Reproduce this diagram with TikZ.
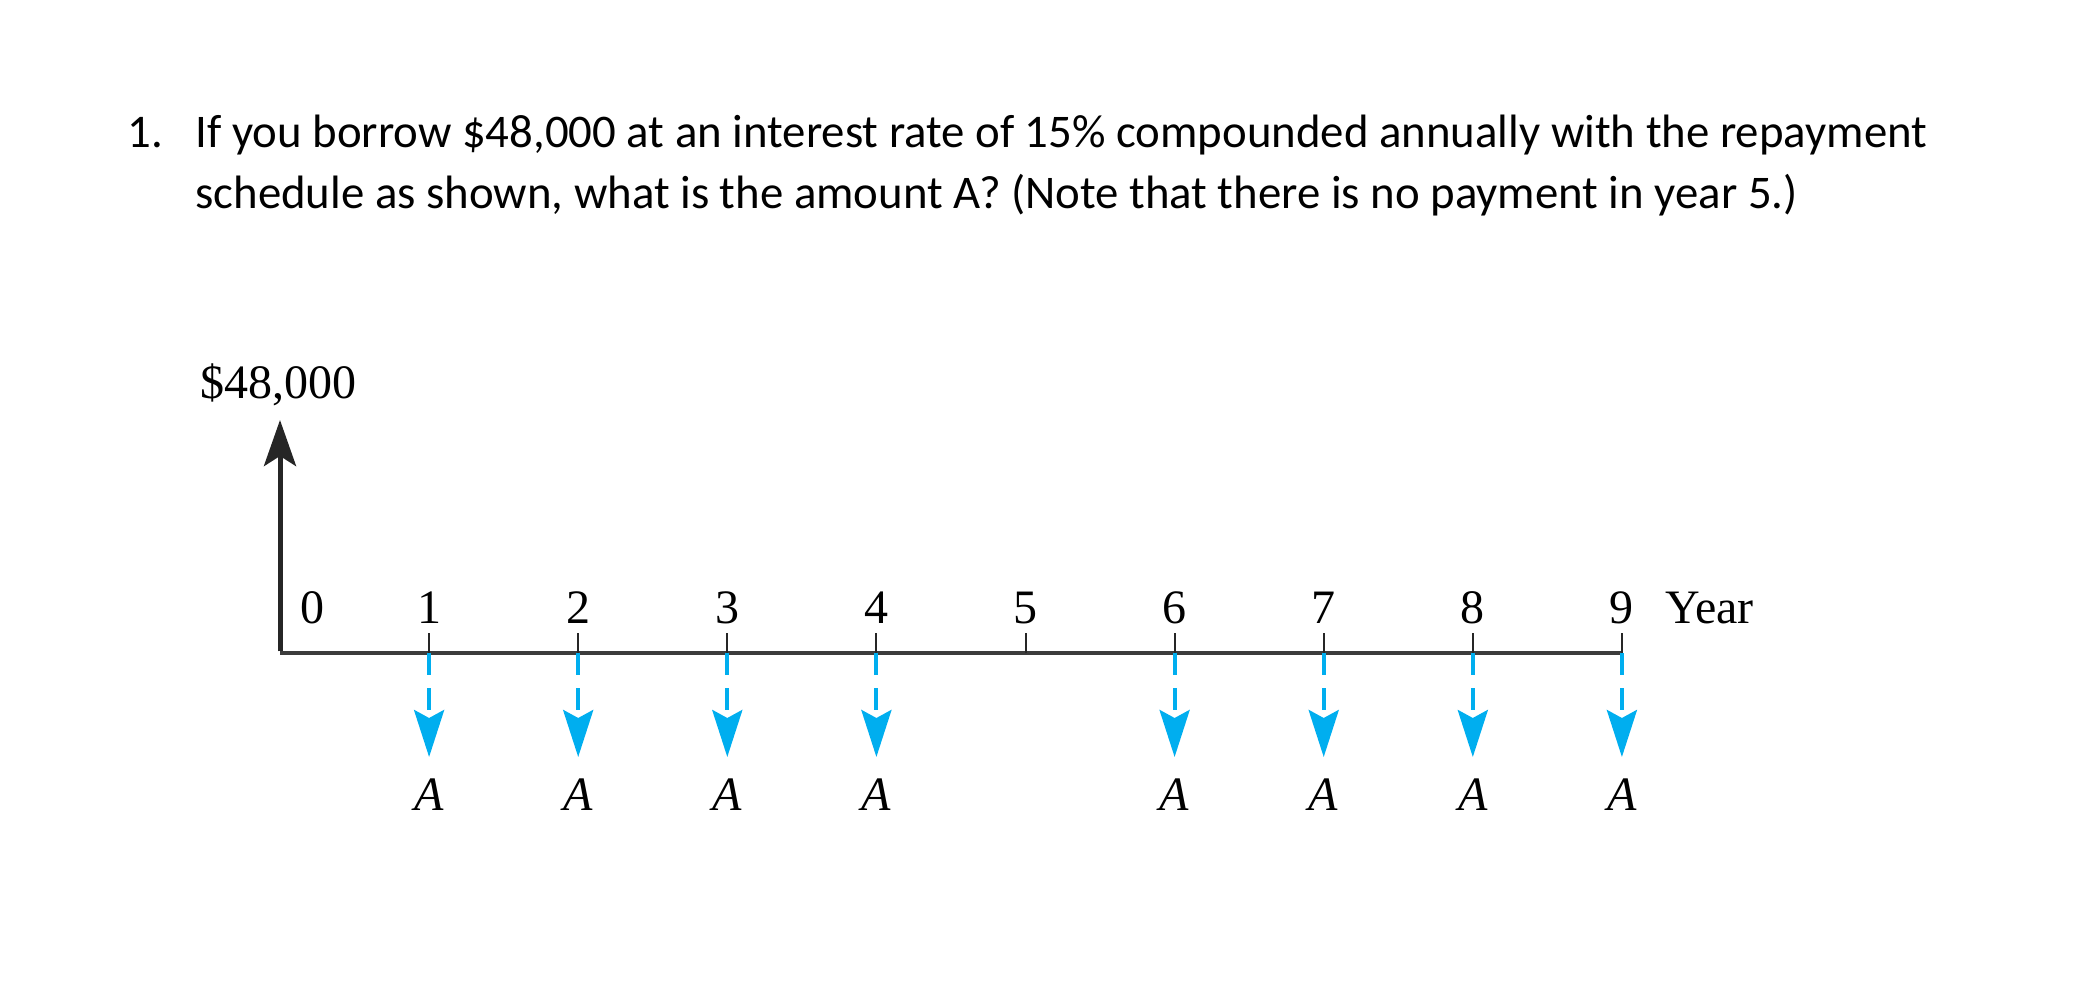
\documentclass[tikz,border=0pt]{standalone}
\usepackage{fontspec}
\setmainfont{Liberation Serif}
\newfontfamily\calfont{Carlito}
\usetikzlibrary{arrows.meta}
\definecolor{cashblue}{HTML}{00AEEF}
\definecolor{axisgray}{HTML}{3C3C3C}
\definecolor{upblack}{HTML}{262626}
\begin{document}
\begin{tikzpicture}[x=0.5pt,y=-0.5pt,
  qtext/.style={inner sep=0pt,font=\calfont\fontsize{23.4}{28}\selectfont,anchor=base west},
  lab/.style={inner sep=0pt,font=\fontsize{24}{28}\selectfont},
  axisline/.style={draw=axisgray,line width=1.6pt},
  upflow/.style={draw=upblack,line width=2.5pt,-{Stealth[length=23pt,width=16pt,inset=5pt]}},
  tickmark/.style={draw=upblack,line width=1pt},
  pay/.style={draw=cashblue,line width=2pt,dash pattern=on 11pt off 6.5pt,-{Stealth[length=23.5pt,width=15pt,inset=4pt]}}]
\useasboundingbox (0,0) rectangle (2078,1002);
\fill[white] (0,0) rectangle (2078,1002);
% question text
\node[qtext] (num) at (127,147) {1.};
\node[qtext] (line1) at (195,147) {If you borrow \$48,000 at an interest rate of 15\% compounded annually with the repayment};
\node[qtext] (line2) at (195,208) {schedule as shown, what is the amount A? (Note that there is no payment in year 5.)};
% axes
\coordinate (O) at (280,653);
\coordinate (top) at (280,420);
\coordinate (end) at (1621,653);
\draw[axisline] (O) -- (end);
\draw[upflow] ([yshift=0.8pt]O) -- (top);
\node[lab,anchor=base] (loan) at (278,398) {\$48,000};
\node[lab,anchor=base] (n0) at (312,623) {0};
\foreach \k in {1,...,9} {
  \pgfmathsetmacro\xk{280+149.1*\k}
  \coordinate (t\k) at (\xk,653);
  \coordinate (u\k) at (\xk,633);
  \draw[tickmark] (t\k) -- (u\k);
  \node[lab,anchor=base] (n\k) at (\xk,623) {\k};
}
\node[lab,anchor=base west] (year) at (1665,623) {Year};
\foreach \k in {1,2,3,4,6,7,8,9} {
  \pgfmathsetmacro\xk{280+149.1*\k}
  \coordinate (a\k) at (\xk,757);
  \draw[pay] (t\k) -- (a\k);
  \node[lab,anchor=base] (A\k) at (\xk,810) {\textit{A}};
}
\end{tikzpicture}
\end{document}
